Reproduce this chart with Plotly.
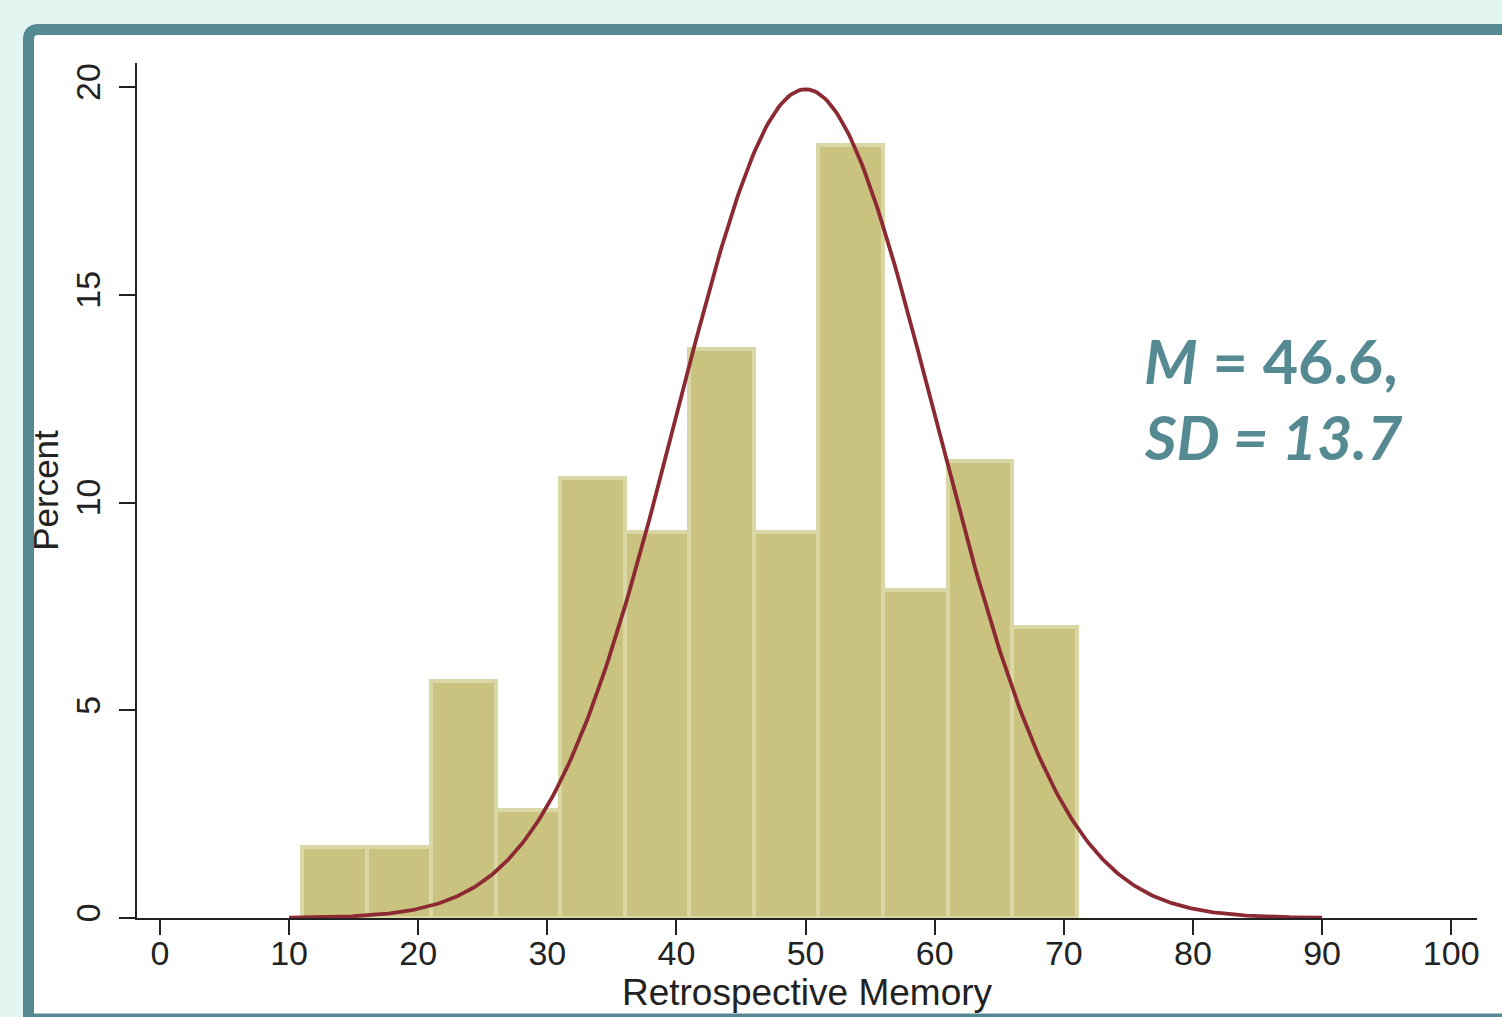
import numpy as np
import plotly.graph_objects as go

# ---- data ----
bin_left = [11, 16, 21, 26, 31, 36, 41, 46, 51, 56, 61, 66]
bin_width = 5
percent = [1.7, 1.7, 5.7, 2.6, 10.6, 9.3, 13.7, 9.3, 18.6, 7.9, 11.0, 7.0]

# fitted normal overlay (parameters)
curve_mean = 50.0
curve_sd = 10.0
curve_from, curve_to = 10, 90

x_ticks = [0, 10, 20, 30, 40, 50, 60, 70, 80, 90, 100]
y_ticks = [0, 5, 10, 15, 20]

stat_line1 = "<b><i>M</i> = 46.6,</b>"
stat_line2 = "<b><i>SD = 13.7</i></b>"

# ---- figure ----
W, H = 1502, 1017
L, R, T, B = 137, 25, 63, 99
PW, PH = W - L - R, H - T - B


def px_u(px):
    return (px - L) / PW


def px_v(py):
    return (H - B - py) / PH


centers = [b + bin_width / 2 for b in bin_left]
xc = np.linspace(curve_from, curve_to, 400)
yc = 100 * bin_width * np.exp(-0.5 * ((xc - curve_mean) / curve_sd) ** 2) / (curve_sd * np.sqrt(2 * np.pi))

fig = go.Figure()
fig.add_trace(go.Bar(
    x=centers, y=percent, width=[bin_width] * len(centers),
    marker=dict(color="#c9c37f", line=dict(color="#dad7a6", width=4)),
    showlegend=False, hoverinfo="x+y",
))
fig.add_trace(go.Scatter(
    x=xc, y=yc, mode="lines",
    line=dict(color="#8b2a32", width=3.8),
    showlegend=False, hoverinfo="skip",
))

# frame
lft, top, rgt, bot = px_u(28.5), px_v(29.5), px_u(1515), px_v(1019)
rx, ry = 10 / PW, 10 / PH
frame_path = (f"M {lft},{bot} L {lft},{top - ry} Q {lft},{top} {lft + rx},{top} "
              f"L {rgt},{top} L {rgt},{bot} Z")
fig.add_shape(type="path", path=frame_path, xref="paper", yref="paper",
              fillcolor="white", line=dict(color="#568a93", width=11), layer="below")

font_axis = "Liberation Sans, Arial, sans-serif"
fig.update_layout(
    width=W, height=H, autosize=False,
    margin=dict(l=L, r=R, t=T, b=B, pad=0),
    paper_bgcolor="#e2f5f1",
    plot_bgcolor="rgba(0,0,0,0)",
    bargap=0,
    xaxis=dict(
        range=[-1.78, 102.0], tickvals=x_ticks, ticktext=[str(v) for v in x_ticks],
        showgrid=False, zeroline=False, showline=True, linecolor="#222", linewidth=2,
        ticks="outside", ticklen=15, tickwidth=2, tickcolor="#222",
        tickfont=dict(family=font_axis, size=34, color="#222"),
        title=dict(text="Retrospective Memory", font=dict(family=font_axis, size=37, color="#222"), standoff=3),
        ticklabelstandoff=-11, automargin=False,
    ),
    yaxis=dict(
        range=[0, 20.58], tickvals=y_ticks, ticktext=[str(v) for v in y_ticks],
        showgrid=False, zeroline=False, showline=True, linecolor="#222", linewidth=2,
        ticks="outside", ticklen=16, tickwidth=2, tickcolor="#222", tickangle=-90,
        tickfont=dict(family=font_axis, size=34, color="#222"),
        title=dict(text="Percent", font=dict(family=font_axis, size=35, color="#222"), standoff=0),
        ticklabelstandoff=5, automargin=False,
    ),
    font=dict(family=font_axis),
)

fig.add_annotation(text=stat_line1, xref="paper", yref="paper", x=px_u(1142), y=px_v(360),
                   xanchor="left", yanchor="middle", showarrow=False,
                   font=dict(family="Lato, Open Sans, sans-serif", size=61, color="#568a93"))
fig.add_annotation(text=stat_line2, xref="paper", yref="paper", x=px_u(1142), y=px_v(437),
                   xanchor="left", yanchor="middle", showarrow=False,
                   font=dict(family="Lato, Open Sans, sans-serif", size=61, color="#568a93"))

fig.write_html(
    "out.html",
    config={"responsive": False, "displayModeBar": False},
    post_script="document.body.style.margin='0';document.body.style.background='#e2f5f1';"
                "document.body.style.overflow='hidden';",
)
